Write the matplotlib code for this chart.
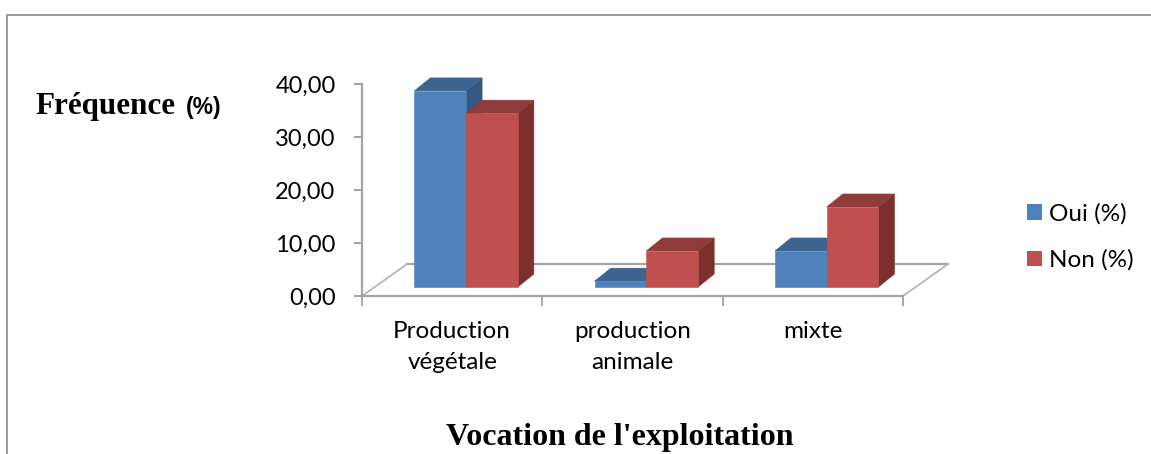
import matplotlib
matplotlib.use("Agg")
import matplotlib.pyplot as plt
from matplotlib.patches import Polygon, Patch
from matplotlib.lines import Line2D

categories = ["Production\nvégétale", "production\nanimale", "mixte"]
oui = [37.0, 1.1, 6.8]
non = [32.8, 6.8, 15.1]
y_ticks = [0, 10, 20, 30, 40]
y_labels = ["0,00", "10,00", "20,00", "30,00", "40,00"]

W, H = 1151, 454
FONT = "Lato"
GRID = "#a3a3a3"
FLOOR_DX, FLOOR_DY = 0.25, 6.04   # floor depth in data units
BAR_DX, BAR_DY = 0.089, 2.45      # bar depth in data units
BASE = 1.7                        # height of the bars' front plane above the axis
BAR_W = 0.287
GROUP_SHIFT = 0.077

fig = plt.figure(figsize=(W / 100, H / 100), dpi=100, facecolor="white")
ax = fig.add_axes([362 / W, (H - 296) / H, 541 / W, 212 / H])
ax.set_xlim(0, 3)
ax.set_ylim(0, 40)
ax.patch.set_alpha(0)


def bar(x0, x1, val, front, top, side):
    lo, hi = BASE, BASE + val
    ax.add_patch(Polygon([(x1, lo), (x1 + BAR_DX, lo + BAR_DY), (x1 + BAR_DX, hi + BAR_DY), (x1, hi)],
                         closed=True, fc=side, ec=side, lw=0.4, clip_on=False, zorder=3))
    ax.add_patch(Polygon([(x0, hi), (x0 + BAR_DX, hi + BAR_DY), (x1 + BAR_DX, hi + BAR_DY), (x1, hi)],
                         closed=True, fc=top, ec=top, lw=0.4, clip_on=False, zorder=3))
    ax.add_patch(Polygon([(x0, lo), (x1, lo), (x1, hi), (x0, hi)],
                         closed=True, fc=front, ec=front, lw=0.4, clip_on=False, zorder=3))


# floor
ax.plot([FLOOR_DX, 3 + FLOOR_DX], [FLOOR_DY, FLOOR_DY], color=GRID, lw=1.6, clip_on=False, zorder=1)
ax.plot([0, FLOOR_DX], [0, FLOOR_DY], color="#b5b5b5", lw=1.3, clip_on=False, zorder=1)
ax.plot([3, 3 + FLOOR_DX], [0, FLOOR_DY], color="#b5b5b5", lw=1.3, clip_on=False, zorder=1)

for i in range(len(categories)):
    c = i + 0.5 + GROUP_SHIFT
    bar(c - BAR_W, c, oui[i], "#4f81bd", "#3d648f", "#34587f")
    bar(c, c + BAR_W, non[i], "#c0504d", "#8f3c3a", "#7c302e")

for s in ("top", "right"):
    ax.spines[s].set_visible(False)
for s in ("left", "bottom"):
    ax.spines[s].set_color(GRID)
    ax.spines[s].set_linewidth(1.6)

ax.set_yticks(y_ticks)
ax.set_yticklabels(y_labels, fontfamily=FONT, fontsize=17, color="black")
ax.tick_params(axis="y", length=6, width=1.5, color=GRID, pad=13)
ax.set_xticks([0, 1, 2, 3])
ax.set_xticklabels([])
ax.tick_params(axis="x", which="major", length=7, width=1.3, color=GRID)
ax.set_xticks([0.5, 1.5, 2.5], minor=True)
ax.set_xticklabels(categories, minor=True, fontfamily=FONT, fontsize=17.5, linespacing=1.6)
ax.tick_params(axis="x", which="minor", length=0, pad=18)
for t in ax.get_xticklabels(minor=True):
    t.set_verticalalignment("top")

fig.text(35 / W, 1 - 114 / H, "Fréquence", fontfamily="Liberation Serif", fontweight="bold", fontsize=22.4, va="baseline")
fig.text(186 / W, 1 - 114 / H, "(%)", fontfamily="Liberation Sans", fontweight="bold", fontsize=16.5, va="baseline")
fig.text(620 / W, 1 - 445 / H, "Vocation de l'exploitation", fontfamily="Liberation Serif", fontweight="bold",
         fontsize=23, ha="center", va="baseline")

handles = [Patch(fc="#4f81bd", ec="none"), Patch(fc="#c0504d", ec="none")]
fig.legend(handles, ["Oui (%)", "Non (%)"], loc="center left", bbox_to_anchor=(1027 / W, 1 - 237 / H),
           frameon=False, prop={"family": FONT, "size": 17.5}, handlelength=0.62, handleheight=0.62,
           handletextpad=0.29, labelspacing=1.03, borderpad=0, borderaxespad=0)

fig.add_artist(Line2D([6.5 / W, 6.5 / W, 1], [0, 1 - 14.5 / H, 1 - 14.5 / H], color="#9a9a9a", lw=1.4,
                      transform=fig.transFigure))

fig.savefig("out.png", dpi=100)
